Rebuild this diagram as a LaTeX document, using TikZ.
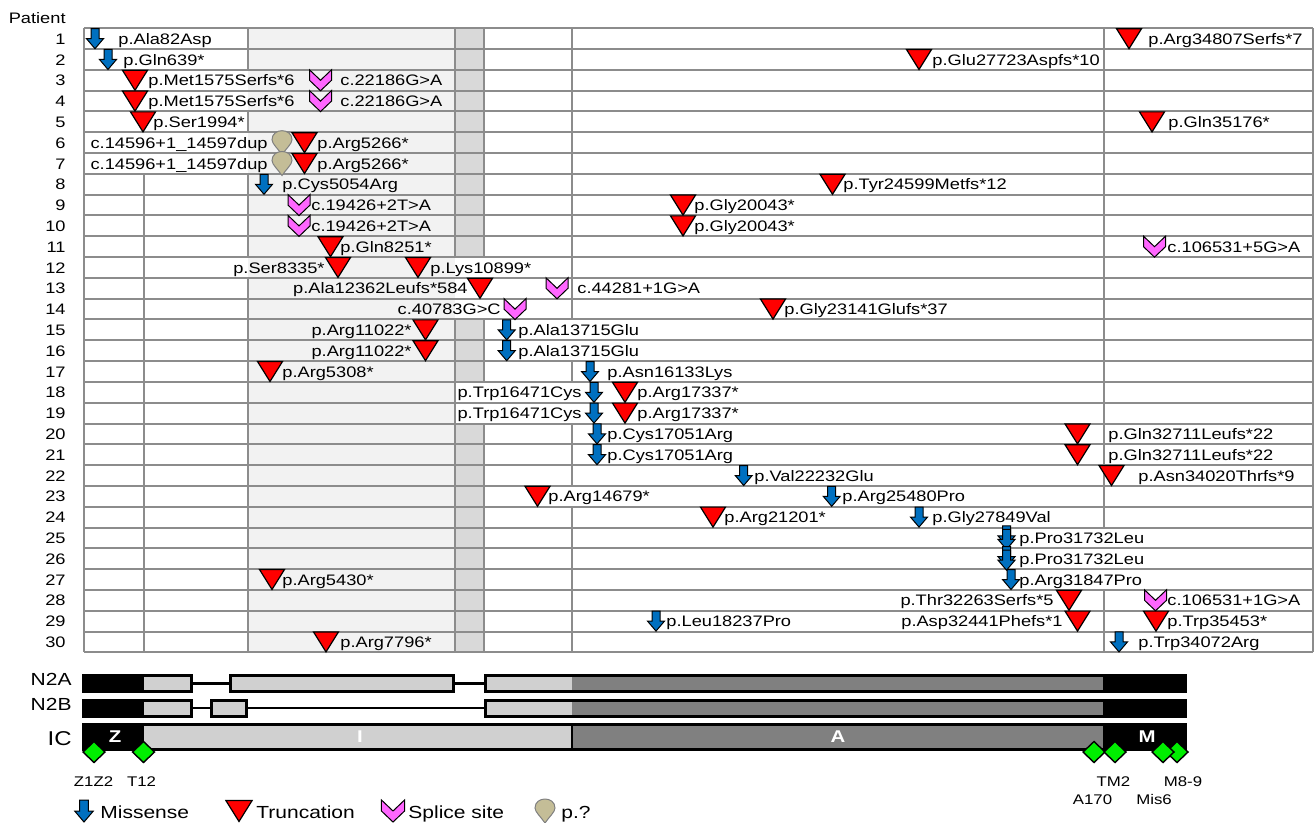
\documentclass[tikz,border=0pt]{standalone}
\usepackage{fontspec}
\setmainfont{Liberation Sans}[FakeStretch=1.2]
\usepackage{tikz}

\definecolor{misblue}{HTML}{0070C0}
\definecolor{splicepink}{HTML}{FF66FF}
\definecolor{pqtan}{HTML}{C4BD97}
\definecolor{gridgray}{HTML}{8C8C8C}
\definecolor{shadelight}{HTML}{F2F2F2}
\definecolor{shadedark}{HTML}{D9D9D9}
\definecolor{barlight}{HTML}{D0D0D0}
\definecolor{bardark}{HTML}{808080}
\definecolor{domgreen}{HTML}{00EE00}

% row geometry (pixel units, y downwards)
\newcommand{\rb}[1]{28.3+#1*20.8-4.8}
\newcommand{\rc}[1]{28.3+#1*20.8-10.4}
\newcommand{\rt}[1]{28.3+#1*20.8-20.8}

\tikzset{
  gridline/.style={draw=gridgray, line width=1pt},
  lab/.style={font=\fontsize{7.6}{9}\selectfont, inner sep=0pt},
  keylab/.style={font=\fontsize{8.75}{10}\selectfont, inner sep=0pt},
  domlab/.style={font=\fontsize{7}{8}\selectfont, inner sep=0pt, anchor=base},
  regionlab/.style={font=\bfseries\fontsize{8.5}{10}\selectfont, text=white, inner sep=0pt},
  missense/.pic={\filldraw[fill=misblue, draw=black, line width=0.5pt] (-4,-10) -- (4,-10) -- (4,0) -- (8.5,0) -- (0,10) -- (-8.5,0) -- (-4,0) -- cycle;},
  trunc/.pic={\filldraw[fill=red, draw=black, line width=0.6pt] (-12.5,-10) -- (12.5,-10) -- (0,10) -- cycle;},
  splice/.pic={\filldraw[fill=splicepink, draw=black, line width=0.5pt] (-11,-10.5) -- (0,0) -- (11,-10.5) -- (11,0) -- (0,10.5) -- (-11,0) -- cycle;},
  pq/.pic={\filldraw[fill=pqtan, draw=gray, line width=0.5pt] (0,12) .. controls (-4,6) and (-10,1) .. (-10,-3) .. controls (-10,-9) and (-5,-12) .. (0,-12) .. controls (5,-12) and (10,-9) .. (10,-3) .. controls (10,1) and (4,6) .. (0,12) -- cycle;},
  dmd/.pic={\filldraw[fill=domgreen, draw=black, line width=0.7pt] (-11,0) -- (0,-10.5) -- (11,0) -- (0,10.5) -- cycle;}
}

\begin{document}
\begin{tikzpicture}[x=0.5pt,y=-0.5pt]
\useasboundingbox (0,0) rectangle (1315,823);

% shading of the table
\fill[shadelight] (248,28.3) rectangle (455,652.3);
\foreach \a/\b in {1/11,15/17,20/30}
  \fill[shadedark] (455,{\rt{\a}}) rectangle (484,{\rt{\b}+20.8});

% grid
\foreach \i in {0,...,30}
  \draw[gridline] (84,{28.3+\i*20.8}) -- (1313,{28.3+\i*20.8});
\draw[gridline] (84,28.3) -- (84,652.3);
\draw[gridline] (1313,28.3) -- (1313,652.3);
\foreach \xv/\a/\b in {143.5/8/30, 248/1/2, 248/5/5, 248/8/11, 248/13/30,
    455/1/11, 455/15/30, 484/1/11, 484/15/17, 484/20/30,
    572/1/14, 572/17/17, 572/20/22, 572/24/30, 1104/1/24, 1104/28/30}
  \draw[gridline] (\xv,{\rt{\a}}) -- (\xv,{\rt{\b}+20.8});

% patient numbers
\node[lab, anchor=base east] (pat) at (66,24) {Patient};
\foreach \r in {1,...,30}
  \node[lab, anchor=base east] (n\r) at (66,{\rb{\r}}) {\r};

% variants
\foreach \x/\r in {282/6, 282/7}
  \pic at (\x,{\rc{\r}}) {pq};
\foreach \x/\r in {1129/1, 919/2, 135/3, 135/4, 143/5, 1152/5, 304.5/6, 304.5/7,
    832.5/8, 683/9, 683/10, 330.5/11, 338/12, 418/12, 480/13, 773/14,
    425.5/15, 425.5/16, 270/17, 625/18, 625/19, 1077.5/20, 1077.5/21,
    1111.5/22, 537.5/23, 713/24, 272/27, 1069/28, 1077.5/29, 1156/29, 326/30}
  \pic at (\x,{\rc{\r}}) {trunc};
\foreach \x/\r in {95/1, 108/2, 264/8, 506.7/15, 506.7/16, 590/17, 594/18, 594/19,
    597/20, 597/21, 743.7/22, 831.7/23, 919/24, 1011/27, 656/29, 1119/30}
  \pic at (\x,{\rc{\r}}) {missense};
\foreach \r in {25,26} {
  \pic at (1006.5,{\rc{\r}-2}) {missense};
  \pic at (1006.5,{\rc{\r}+1.5}) {missense};
}
\foreach \x/\r in {320.5/3, 320.5/4, 299/9, 299/10, 1154.5/11, 557/13, 515/14, 1155.5/28}
  \pic at (\x,{\rc{\r}}) {splice};

% labels
\foreach \x/\r/\t [count=\k] in {118/1/p.Ala82Asp, 1148/1/p.Arg34807Serfs*7,
    123/2/p.Gln639*, 932/2/p.Glu27723Aspfs*10,
    148/3/p.Met1575Serfs*6, 340/3/c.22186G>A, 148/4/p.Met1575Serfs*6, 340/4/c.22186G>A,
    153/5/p.Ser1994*, 1168/5/p.Gln35176*, 317/6/p.Arg5266*, 317/7/p.Arg5266*,
    282/8/p.Cys5054Arg, 843/8/p.Tyr24599Metfs*12,
    311/9/c.19426+2T>A, 694/9/p.Gly20043*, 311/10/c.19426+2T>A, 694/10/p.Gly20043*,
    340/11/p.Gln8251*, 1167/11/c.106531+5G>A, 430/12/p.Lys10899*,
    577/13/c.44281+1G>A, 784/14/p.Gly23141Glufs*37,
    518/15/p.Ala13715Glu, 518/16/p.Ala13715Glu,
    282/17/p.Arg5308*, 607/17/p.Asn16133Lys, 637/18/p.Arg17337*, 637/19/p.Arg17337*,
    607/20/p.Cys17051Arg, 1108/20/p.Gln32711Leufs*22,
    607/21/p.Cys17051Arg, 1108/21/p.Gln32711Leufs*22,
    754/22/p.Val22232Glu, 1138/22/p.Asn34020Thrfs*9,
    548/23/p.Arg14679*, 842/23/p.Arg25480Pro, 724/24/p.Arg21201*, 932/24/p.Gly27849Val,
    1019/25/p.Pro31732Leu, 1019/26/p.Pro31732Leu,
    282/27/p.Arg5430*, 1019/27/p.Arg31847Pro, 1167/28/c.106531+1G>A,
    666/29/p.Leu18237Pro, 1167/29/p.Trp35453*, 340/30/p.Arg7796*, 1138/30/p.Trp34072Arg}
  \node[lab, anchor=base west] (w\k) at (\x,{\rb{\r}}) {\t};
\foreach \x/\r/\t [count=\k] in {268/6/c.14596+1\_14597dup, 268/7/c.14596+1\_14597dup,
    325/12/p.Ser8335*, 468/13/p.Ala12362Leufs*584, 501/14/c.40783G>C,
    412/15/p.Arg11022*, 412/16/p.Arg11022*, 582/18/p.Trp16471Cys, 582/19/p.Trp16471Cys,
    1054/28/p.Thr32263Serfs*5, 1063/29/p.Asp32441Phefs*1}
  \node[lab, anchor=base east] (e\k) at (\x,{\rb{\r}}) {\t};

% titin isoforms
\node[keylab, anchor=base east] (n2a) at (72,685) {N2A};
\node[keylab, anchor=base east] (n2b) at (72,710) {N2B};
\node[keylab, font=\fontsize{10}{11}\selectfont, anchor=base east] (ic) at (72,745) {IC};

% N2A
\fill (82,674) rectangle (193,693);
\fill[barlight] (144,677) rectangle (190,690);
\draw[line width=1.2pt] (193,683.5) -- (229,683.5);
\fill (229,674) rectangle (455,693);
\fill[barlight] (232,677) rectangle (452,690);
\draw[line width=1.2pt] (455,683.5) -- (484,683.5);
\fill (484,674) rectangle (1187,693);
\fill[barlight] (487,677) rectangle (572,690);
\fill[bardark] (572,677) rectangle (1103,690);

% N2B
\fill (82,698.5) rectangle (193,717.5);
\fill[barlight] (144,701.5) rectangle (190,714.5);
\draw[line width=1.2pt] (193,708) -- (210,708);
\fill (210,698.5) rectangle (248,717.5);
\fill[barlight] (213,701.5) rectangle (245,714.5);
\draw[line width=1.2pt] (248,708) -- (484,708);
\fill (484,698.5) rectangle (1187,717.5);
\fill[barlight] (487,701.5) rectangle (572,714.5);
\fill[bardark] (572,701.5) rectangle (1103,714.5);

% IC
\fill (82,722.5) rectangle (1187,751);
\fill[barlight] (144,725.5) rectangle (571,748);
\fill[bardark] (573,725.5) rectangle (1103,748);
\node[regionlab] (zreg) at (115,737) {Z};
\node[regionlab] (ireg) at (360,737) {I};
\node[regionlab] (areg) at (838,737) {A};
\node[regionlab] (mreg) at (1147,737) {M};

% domains
\pic at (94,752) {dmd};
\pic at (143.5,752) {dmd};
\pic at (1094,752) {dmd};
\pic at (1115,752) {dmd};
\pic at (1177,752) {dmd};
\pic at (1163,752) {dmd};
\node[domlab] (dz) at (93.5,786) {Z1Z2};
\node[domlab] (dt) at (141.5,786) {T12};
\node[domlab] (dtm) at (1113.5,786) {TM2};
\node[domlab] (da) at (1092.5,804) {A170};
\node[domlab] (dm) at (1183,786) {M8-9};
\node[domlab] (dmis) at (1154,804) {Mis6};

% legend
\pic[scale=1.1] at (84,811) {missense};
\node[keylab, anchor=base west] (kmis) at (100,818) {Missense};
\pic[scale=1.05] at (239,811) {trunc};
\node[keylab, anchor=base west] (ktr) at (256,818) {Truncation};
\pic[scale=1.05] at (393,811) {splice};
\node[keylab, anchor=base west] (ksp) at (408,818) {Splice site};
\pic at (545,811) {pq};
\node[keylab, anchor=base west] (kpq) at (561,818) {p.?};
\end{tikzpicture}
\end{document}
